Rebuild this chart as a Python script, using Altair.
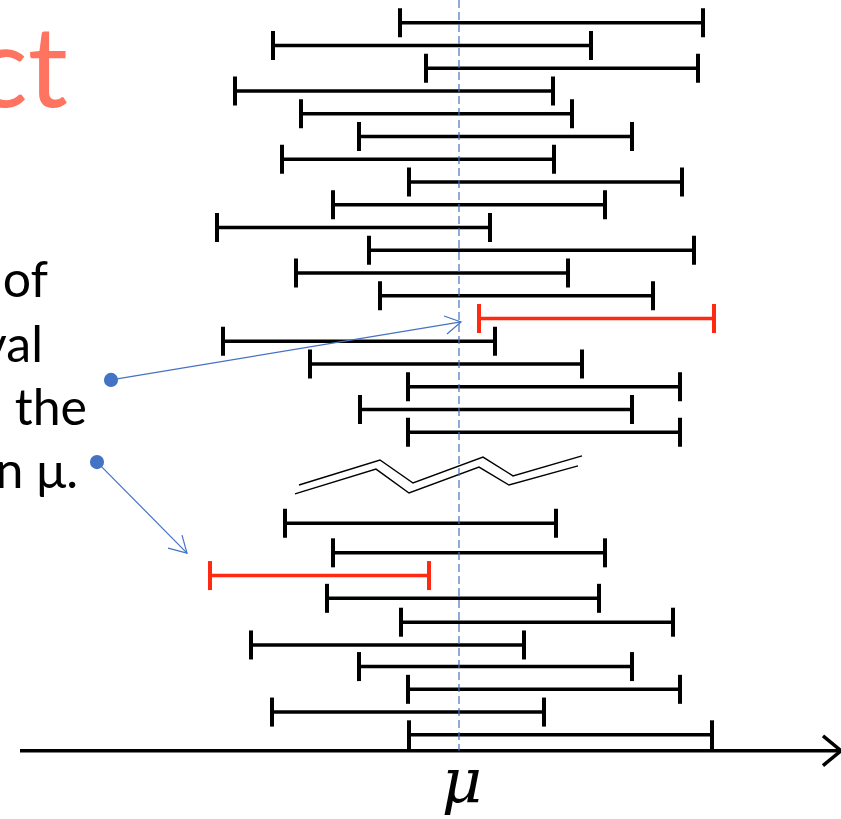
import altair as alt
import pandas as pd

BLACK = "#000000"
RED = "#FF2A12"
BLUE = "#4472C4"
SALMON = "#FF7361"

# Confidence intervals, as offsets from the true mean mu (= 0).
# Samples drawn above the break in the stack
upper_lo = [-59, -186, -33, -224, -158, -100, -177, -50, -126, -242,
            -90, -163, -79, 20, -236, -149, -51, -99, -51]
upper_hi = [244, 132, 239, 94, 113, 173, 95, 223, 146, 31,
            235, 109, 194, 255, 36, 123, 221, 173, 221]
upper_row = list(range(1, 20))

# Samples drawn below the break
lower_lo = [-174, -126, -249, -132, -58, -208, -100, -51, -187, -50]
lower_hi = [97, 146, -30, 140, 214, 65, 173, 221, 85, 253]
lower_row = [23, 24.3, 25.3, 26.3, 27.35, 28.35, 29.3, 30.3, 31.3, 32.3]

AXIS_ROW = 33
AXIS_START = -439
AXIS_END = 382

# Break marker (two parallel zigzags)
zig_x_top = [-160, -79, -46, 24, 54, 123]
zig_y_top = [21.32, 20.22, 21.23, 20.09, 20.92, 20.04]
zig_x_bot = [-164, -83, -50, 20, 50, 119]
zig_y_bot = [21.71, 20.62, 21.67, 20.53, 21.32, 20.48]

# Callout arrows: start dot, tip, and the two barbs of the open head
dot_x = [-348, -362]
dot_y = [16.70, 20.31]
tip_x = [2, -272]
tip_y = [14.15, 24.31]
barb1_x = [-15, -291]
barb1_y = [13.89, 24.09]
barb2_x = [-12, -277]
barb2_y = [14.68, 23.52]

# Axis arrowhead
head_x = [364, AXIS_END, 364]
head_y = [32.35, AXIS_ROW, 33.65]

# Slide text (clipped at the left edge)
title_text = "Correct"
title_pos = (-391, 4.70)
body_lines = ["95% of", "the interval", "capture the", "population mean \u03bc."]
body_right = [-411, -416, -372, -381]
body_base = [13.05, 15.91, 18.68, 21.45]
mu_label = "\u03bc"
mu_pos = (3, 35.25)

lo = upper_lo + lower_lo
hi = upper_hi + lower_hi
row = upper_row + lower_row
intervals = pd.DataFrame({"lo": lo, "hi": hi, "row": row})
intervals["status"] = ["miss" if (a > 0 or b < 0) else "hit" for a, b in zip(lo, hi)]

xs = alt.Scale(domain=[-459, 382], nice=False, zero=False)
ys = alt.Scale(domain=[0, 36], reverse=True, nice=False, zero=False)
X = lambda f: alt.X(f, scale=xs, axis=None)
Y = lambda f: alt.Y(f, scale=ys, axis=None)
status_color = alt.Color(
    "status:N",
    scale=alt.Scale(domain=["hit", "miss"], range=[BLACK, RED]),
    legend=None,
)

bars = alt.Chart(intervals).mark_rule(strokeWidth=3.5).encode(
    x=X("lo:Q"), x2="hi:Q", y=Y("row:Q"), color=status_color
)
caps = (
    alt.Chart(intervals)
    .transform_fold(["lo", "hi"], as_=["end", "xe"])
    .mark_tick(orient="vertical", size=29, thickness=4, opacity=1)
    .encode(x=X("xe:Q"), y=Y("row:Q"), color=status_color)
)

mu_line = alt.Chart(pd.DataFrame({"x": [0], "y": [0], "y2": [AXIS_ROW]})).mark_rule(
    color=BLUE, strokeDash=[8, 4], strokeWidth=1.2
).encode(x=X("x:Q"), y=Y("y:Q"), y2="y2:Q")

axis_line = alt.Chart(
    pd.DataFrame({"x": [AXIS_START], "x2": [AXIS_END], "y": [AXIS_ROW]})
).mark_rule(color=BLACK, strokeWidth=3.5).encode(x=X("x:Q"), x2="x2:Q", y=Y("y:Q"))

axis_head = alt.Chart(
    pd.DataFrame({"x": head_x, "y": head_y, "i": [0, 1, 2]})
).mark_line(color=BLACK, strokeWidth=3.5, strokeJoin="miter").encode(
    x=X("x:Q"), y=Y("y:Q"), order="i:Q"
)

zig = pd.DataFrame({
    "x": zig_x_top + zig_x_bot,
    "y": zig_y_top + zig_y_bot,
    "path": ["top"] * len(zig_x_top) + ["bot"] * len(zig_x_bot),
    "i": list(range(len(zig_x_top))) + list(range(len(zig_x_bot))),
})
zigzag = alt.Chart(zig).mark_line(color=BLACK, strokeWidth=1.4).encode(
    x=X("x:Q"), y=Y("y:Q"), detail="path:N", order="i:Q"
)

arrow_rows = []
for k in range(len(dot_x)):
    arrow_rows += [
        {"x": dot_x[k], "y": dot_y[k], "path": f"shaft{k}", "i": 0},
        {"x": tip_x[k], "y": tip_y[k], "path": f"shaft{k}", "i": 1},
        {"x": barb1_x[k], "y": barb1_y[k], "path": f"head{k}", "i": 0},
        {"x": tip_x[k], "y": tip_y[k], "path": f"head{k}", "i": 1},
        {"x": barb2_x[k], "y": barb2_y[k], "path": f"head{k}", "i": 2},
    ]
arrows = alt.Chart(pd.DataFrame(arrow_rows)).mark_line(
    color=BLUE, strokeWidth=1.2
).encode(x=X("x:Q"), y=Y("y:Q"), detail="path:N", order="i:Q")

dots = alt.Chart(pd.DataFrame({"x": dot_x, "y": dot_y})).mark_point(
    shape="circle", filled=True, size=200, color=BLUE, opacity=1
).encode(x=X("x:Q"), y=Y("y:Q"))

title = alt.Chart(
    pd.DataFrame({"x": [title_pos[0]], "y": [title_pos[1]], "t": [title_text]})
).mark_text(
    font="Lato", fontSize=112, color=SALMON, align="right", baseline="alphabetic"
).encode(x=X("x:Q"), y=Y("y:Q"), text="t:N")

body = alt.Chart(
    pd.DataFrame({"x": body_right, "y": body_base, "t": body_lines})
).mark_text(
    font="Lato", fontSize=50, color=BLACK, align="right", baseline="alphabetic"
).encode(x=X("x:Q"), y=Y("y:Q"), text="t:N")

mu_text = alt.Chart(
    pd.DataFrame({"x": [mu_pos[0]], "y": [mu_pos[1]], "t": [mu_label]})
).mark_text(
    font="DejaVu Serif", fontStyle="italic", fontSize=62, color=BLACK,
    align="center", baseline="alphabetic"
).encode(x=X("x:Q"), y=Y("y:Q"), text="t:N")

chart = (
    alt.layer(
        title, body, zigzag, bars, caps, axis_line, axis_head, mu_line,
        arrows, dots, mu_text,
    )
    .properties(width=841, height=819, padding=0, autosize="none", background="white")
    .configure_view(stroke=None)
)

chart.save("out.html", embed_options={"renderer": "svg", "actions": False})
